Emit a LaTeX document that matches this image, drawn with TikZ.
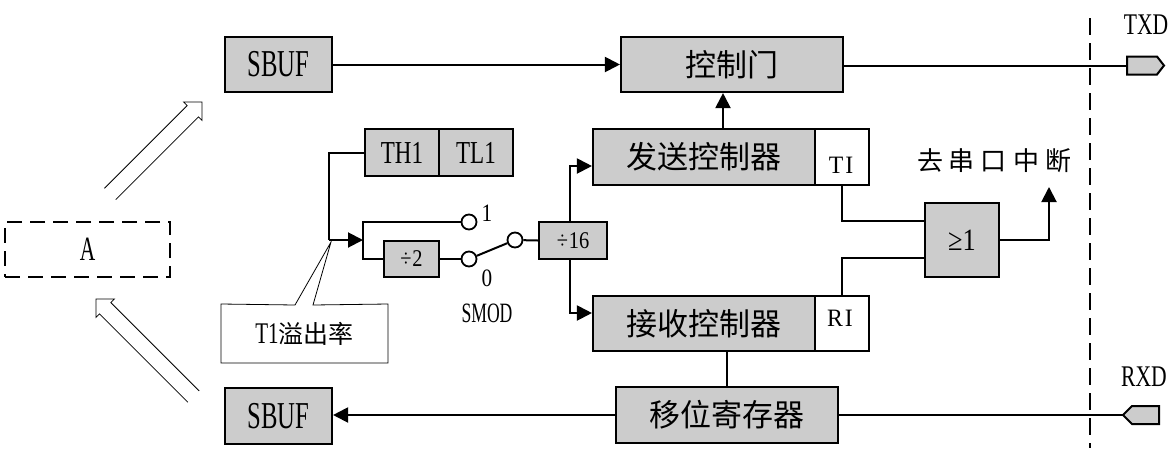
\documentclass[tikz,border=0pt]{standalone}
\usepackage{fontspec}
\usepackage{graphicx}
\setmainfont{Liberation Serif}
\newfontfamily\cjk{Noto Sans CJK SC}
\usetikzlibrary{arrows.meta}
\definecolor{boxgray}{HTML}{CCCCCC}
\newcommand{\lat}[3]{{\fontsize{#1}{#1}\selectfont\scalebox{#2}[1]{#3}}}
\newcommand{\zh}[2]{{\cjk\fontsize{#1}{#1}\selectfont #2}}
\begin{document}
\begin{tikzpicture}[x=1pt,y=-1pt, line width=2pt,
  blk/.style={draw, line width=2.1pt, fill=boxgray, inner sep=0pt},
  wblk/.style={draw, line width=2.1pt, fill=white, inner sep=0pt},
  arr/.style={-{Triangle[length=15pt,width=15pt]}},
  thinl/.style={line width=0.8pt},
  pin/.style={draw, line width=2pt, fill=boxgray},
  sw/.style={circle, draw, fill=white, line width=1.8pt, minimum size=15pt, inner sep=0pt}]
\useasboundingbox (0,0) rectangle (1176,448);

% boxes
\node[blk, minimum width=107pt, minimum height=55pt] (sbufT) at (278.5,64.5) {\lat{38}{0.65}{SBUF}};
\node[blk, minimum width=107pt, minimum height=56pt] (sbufB) at (278.5,416) {\lat{38}{0.65}{SBUF}};
\node[blk, minimum width=222pt, minimum height=55pt] (gate) at (732,64.5) {\zh{31}{控制门}};
\node[blk, minimum width=222pt, minimum height=56pt] (send) at (704,157) {\zh{31}{发送控制器}};
\node[wblk, minimum width=54pt, minimum height=56pt] (ti) at (842,157) {};
\node (tiL) at (841,165) {\lat{25}{0.95}{T\kern2pt I}};
\node[blk, minimum width=222pt, minimum height=55pt] (recv) at (704,323.5) {\zh{31}{接收控制器}};
\node[wblk, minimum width=54pt, minimum height=55pt] (ri) at (842,323.5) {};
\node (riL) at (840,318.5) {\lat{25}{0.95}{R\kern2pt I}};
\node[blk, minimum width=222pt, minimum height=56pt] (shift) at (727,415) {\zh{31}{移位寄存器}};
\node[blk, minimum width=74pt, minimum height=47pt] (th1) at (402,152.5) {\lat{32}{0.72}{TH1}};
\node[blk, minimum width=74pt, minimum height=47pt] (tl1) at (476,152.5) {\lat{32}{0.72}{TL1}};
\node[blk, minimum width=55pt, minimum height=36pt] (div2) at (411.5,259) {\lat{24}{0.85}{÷\kern1pt 2}};
\node[blk, minimum width=68pt, minimum height=37pt] (div16) at (573,240.5) {\lat{24}{0.85}{÷\kern1pt 16}};
\node[blk, minimum width=74pt, minimum height=74pt] (or) at (962,240) {\lat{31}{0.85}{≥1}};
\node[draw, line width=1.9pt, dash pattern=on 15pt off 8pt, minimum width=165pt, minimum height=55pt] (abox) at (87.5,249.5) {\lat{34}{0.63}{A}};

% switch circles
\node[sw] (c1) at (469,222) {};
\node[sw] (c0) at (469,259) {};
\node[sw] (cs) at (515,240) {};

% labels
\node (txdL) at (1146,25) {\lat{30}{0.72}{TXD}};
\node (rxdL) at (1144,377) {\lat{30}{0.72}{RXD}};
\node (one) at (487,213) {\lat{25}{0.85}{1}};
\node (zero) at (487,278) {\lat{25}{0.85}{0}};
\node (smod) at (487,313) {\lat{28}{0.63}{SMOD}};
\node (intrL) at (994,161) {\zh{26}{去\kern6pt 串\kern6pt 口\kern6pt 中\kern6pt 断}};

% callout
\node[minimum width=165pt, minimum height=57pt, inner sep=0pt] (call) at (304.5,333.5) {\lat{30}{0.7}{T1}\zh{25}{溢出率}};
\draw[thinl] (295,305) -- (call.north west) -- (call.south west) -- (call.south east) -- (call.north east) -- (313,305) -- (331,242) -- cycle;

% connectors
\coordinate (j) at (329,240);
\coordinate (br) at (363,240);
\draw (th1.west) -| (j);
\draw[arr] (j) -- (br);
\draw (c1) -| (br) |- (div2.west);
\draw (div2.east) -- (c0);
\draw (c0) -- (cs);
\draw (cs) -- (div16.west);
\draw[arr] ([xshift=-3pt]div16.north) |- ([yshift=-9pt]send.west);
\draw[arr] ([xshift=-3pt]div16.south) |- ([yshift=10.5pt]recv.west);

\draw[arr] (sbufT.east) -- (gate.west);
\coordinate (gu) at ([xshift=-9pt]gate.south);
\draw[arr] (gu |- send.north) -- (gu);

\coordinate (txd) at (1127,65.5);
\draw (gate.east |- txd) -- (txd);
\draw[pin] (txd) ++(0,-9) -- ++(30,0) -- ++(7,9) -- ++(-7,9) -- ++(-30,0) -- cycle;

\coordinate (rxd) at (1123,415);
\draw (shift.east) -- (rxd);
\draw[pin] (rxd) -- ++(9,-9) -- ++(27,0) -- ++(0,18) -- ++(-27,0) -- cycle;
\draw[arr] (shift.west) -- (sbufB.east |- shift.west);
\draw (recv.south -| shift.north) -- (shift.north);

\draw (ti.south) |- ([yshift=19pt]or.west);
\draw (ri.north) |- ([yshift=-18pt]or.west);
\coordinate (intr) at (1049,187);
\draw[arr] (or.east) -| (intr);

% divider
\coordinate (dtop) at (1090,18);
\coordinate (dbot) at (1090,448);
\draw[line width=1.9pt, dash pattern=on 17pt off 8pt] (dtop) -- (dbot);

% hollow arrows
\begin{scope}[shift={(202,102)}, rotate=45, thinl]
\draw (-130,8) -- (-13,8) -- (-13,13) -- (0,0) -- (-13,-13) -- (-13,-8) -- (-130,-8);
\end{scope}
\begin{scope}[shift={(96,299)}, rotate=135, thinl]
\draw (-138,8) -- (-13,8) -- (-13,13) -- (0,0) -- (-13,-13) -- (-13,-8) -- (-138,-8);
\end{scope}
\end{tikzpicture}
\end{document}
